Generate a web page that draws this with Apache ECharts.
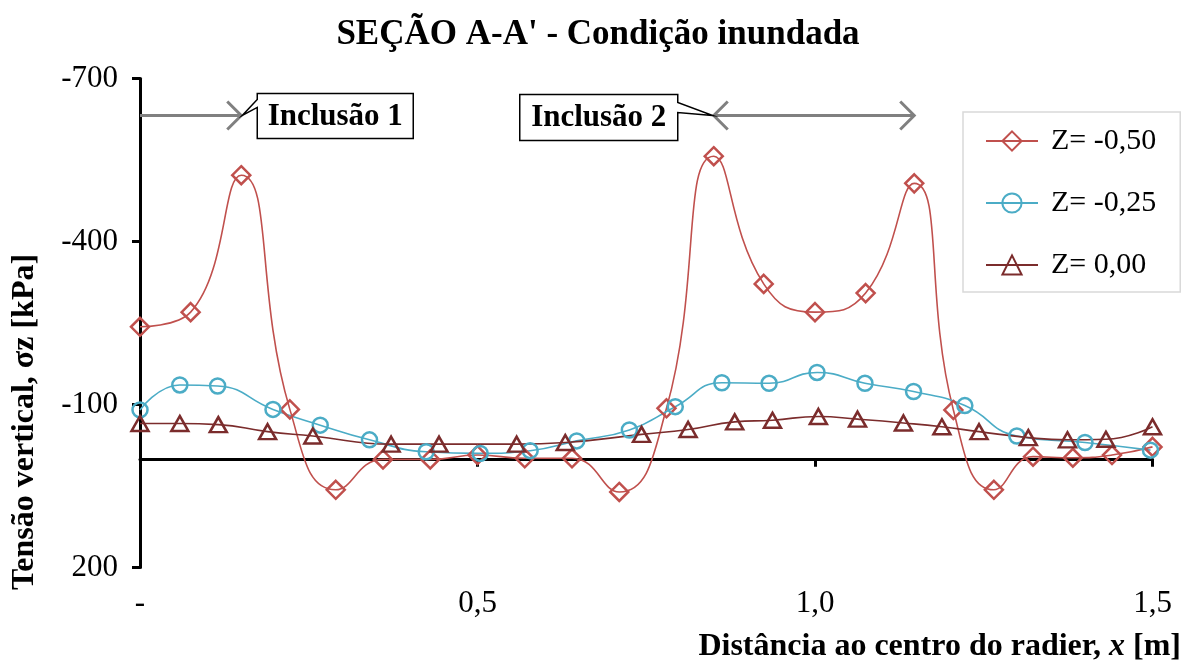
<!DOCTYPE html>
<html>
<head>
<meta charset="utf-8">
<script src="https://cdn.jsdelivr.net/npm/echarts@6/dist/echarts.min.js"></script>
<style>
  html, body { margin: 0; padding: 0; background: #fff; }
  #chart { width: 1196px; height: 665px; }
</style>
</head>
<body>
<div id="chart"></div>
<script>
// dados (x em m, tensão em kPa)
var xRed = [0, 0.075, 0.15, 0.222, 0.29, 0.36, 0.43, 0.5, 0.57, 0.64, 0.71, 0.78, 0.85, 0.924, 1.0, 1.075, 1.147, 1.205, 1.265, 1.323, 1.382, 1.44, 1.5];
var yRed = [-243, -270, -522, -91, 57, 1, 1, -7, -1, -1, 61, -93, -557, -322, -270, -305, -507, -90, 57, -4, -2, -7, -22];

var xBlue = [0, 0.059, 0.115, 0.197, 0.267, 0.34, 0.424, 0.504, 0.578, 0.647, 0.725, 0.793, 0.862, 0.932, 1.003, 1.074, 1.146, 1.222, 1.299, 1.4, 1.497];
var yBlue = [-90, -136, -134, -91, -62, -35, -13, -10, -15, -33, -53, -96, -140, -139, -159, -139, -124, -98, -42, -30, -16];

var xDark = [0, 0.059, 0.116, 0.189, 0.256, 0.372, 0.443, 0.558, 0.63, 0.743, 0.812, 0.881, 0.937, 1.005, 1.063, 1.131, 1.188, 1.243, 1.316, 1.374, 1.431, 1.5];
var yDark = [-65, -65, -63, -50, -42, -27, -27, -27, -30, -45, -54, -68, -71, -78, -73, -66, -59, -50, -39, -35, -36, -59];

var seriesNames = ['Z= -0,50', 'Z= -0,25', 'Z= 0,00'];

// setas das inclusões (coordenadas do gráfico)
var arrow1 = [[0, -632], [0.15, -632]];
var arrow2 = [[0.85, -632], [1.147, -632]];

var FONT = 'Liberation Serif';

function pairs(xs, ys) {
  return xs.map(function (x, i) { return [x, ys[i]]; });
}

var chart = echarts.init(document.getElementById('chart'));

function mkSeries(name, data, color, symbol, size) {
  return {
    name: name,
    type: 'line',
    data: data,
    smooth: 0.5,
    symbol: symbol,
    symbolSize: size,
    lineStyle: { color: color, width: 1.6 },
    itemStyle: { color: 'rgba(255,255,255,0)', borderColor: color, borderWidth: 2.5 },
    emphasis: { disabled: true },
    z: 3
  };
}

var option = {
  animation: false,
  backgroundColor: '#fff',
  title: [{
    text: "SEÇÃO A-A' - Condição inundada",
    left: 'center',
    top: 12,
    textStyle: { fontFamily: FONT, fontWeight: 'bold', fontSize: 35, color: '#000' }
  }, {
    text: '{b|Distância ao centro do radier, }{i|x}{b| [m]}',
    right: 10,
    top: 626,
    textStyle: {
      rich: {
        b: { fontFamily: FONT, fontWeight: 'bold', fontSize: 32, color: '#000' },
        i: { fontFamily: FONT, fontWeight: 'bold', fontStyle: 'italic', fontSize: 32, color: '#000' }
      }
    }
  }],
  grid: { left: 140, right: 43.5, top: 78.5, bottom: 97.5, containLabel: false },
  legend: {
    orient: 'vertical',
    left: 963,
    top: 112,
    padding: [14, 24, 12, 22],
    itemWidth: 52,
    itemHeight: 24,
    itemGap: 32,
    borderColor: '#D9D9D9',
    borderWidth: 1.5,
    backgroundColor: '#fff',
    data: seriesNames,
    textStyle: { fontFamily: FONT, fontSize: 30, color: '#000', lineHeight: 28, padding: [0, 0, 0, 8] }
  },
  xAxis: [{
    type: 'value',
    min: 0, max: 1.5, interval: 0.5,
    axisLine: { show: true, onZero: true, lineStyle: { color: '#000', width: 3 } },
    axisTick: { show: true, length: 8, lineStyle: { color: '#000', width: 3 } },
    axisLabel: { show: false },
    splitLine: { show: false }
  }, {
    type: 'value',
    position: 'bottom',
    min: 0, max: 1.5, interval: 0.5,
    axisLine: { show: false, onZero: false },
    axisTick: { show: false },
    splitLine: { show: false },
    axisLabel: {
      margin: 21,
      fontFamily: FONT, fontSize: 31, color: '#000',
      formatter: function (v) { return v === 0 ? '-' : v.toFixed(1).replace('.', ','); }
    }
  }],
  yAxis: {
    type: 'value',
    inverse: true,
    min: -700, max: 200, interval: 300,
    axisLine: { show: true, onZero: false, lineStyle: { color: '#000', width: 3 } },
    axisTick: { show: true, length: 8, lineStyle: { color: '#000', width: 3 } },
    axisLabel: { margin: 22, fontFamily: FONT, fontSize: 31, color: '#000' },
    splitLine: { show: false }
  },
  series: [
    mkSeries(seriesNames[0], pairs(xRed, yRed), '#C0504D', 'diamond', [18, 18]),
    mkSeries(seriesNames[1], pairs(xBlue, yBlue), '#4BACC6', 'circle', 15),
    mkSeries(seriesNames[2], pairs(xDark, yDark), '#7B2C2C', 'triangle', [17, 15])
  ]
};

chart.setOption(option);

// anotações: setas e caixas "Inclusão"
function px(p) { return chart.convertToPixel({ seriesIndex: 0 }, p); }
var gray = '#808080';
var a1s = px(arrow1[0]), a1e = px(arrow1[1]);
var a2s = px(arrow2[0]), a2e = px(arrow2[1]);
var h = 14;
function chevron(tip, dir) {
  return {
    type: 'polyline',
    shape: { points: [[tip[0] - dir * h, tip[1] - h], tip, [tip[0] - dir * h, tip[1] + h]] },
    style: { stroke: gray, lineWidth: 3, fill: null },
    z: 10
  };
}
function shaft(a, b) {
  return { type: 'line', shape: { x1: a[0], y1: a[1], x2: b[0], y2: b[1] }, style: { stroke: gray, lineWidth: 3 }, z: 10 };
}
// caixa 1 à direita da ponta da seta, com bico para a esquerda
var b1 = { l: a1e[0] + 16, r: a1e[0] + 172, t: a1e[1] - 22, b: a1e[1] + 23 };
var box1 = [[b1.l, b1.t], [b1.r, b1.t], [b1.r, b1.b], [b1.l, b1.b], [b1.l, b1.t + 14], [a1e[0] + 1, a1e[1]], [b1.l, b1.t + 6]];
// caixa 2 à esquerda do início da seta dupla, bico para a direita
var b2 = { l: a2s[0] - 194, r: a2s[0] - 36, t: a2s[1] - 21, b: a2s[1] + 25 };
var box2 = [[b2.l, b2.t], [b2.r, b2.t], [b2.r, b2.t + 8], [a2s[0] - 1, a2s[1]], [b2.r, b2.t + 18], [b2.r, b2.b], [b2.l, b2.b]];

var txtStyle = { fontFamily: FONT, fontWeight: 'bold', fontSize: 31, fill: '#000', align: 'center', verticalAlign: 'middle' };

chart.setOption({
  graphic: [
    shaft(a1s, a1e), chevron(a1e, 1),
    shaft(a2s, a2e), chevron(a2s, -1), chevron(a2e, 1),
    { type: 'polygon', shape: { points: box1 }, style: { fill: '#fff', stroke: '#000', lineWidth: 1.5 }, z: 11 },
    { type: 'text', x: (b1.l + b1.r) / 2, y: (b1.t + b1.b) / 2 + 1, style: Object.assign({ text: 'Inclusão 1' }, txtStyle), z: 12 },
    { type: 'polygon', shape: { points: box2 }, style: { fill: '#fff', stroke: '#000', lineWidth: 1.5 }, z: 11 },
    { type: 'text', x: (b2.l + b2.r) / 2, y: (b2.t + b2.b) / 2 + 1, style: Object.assign({ text: 'Inclusão 2' }, txtStyle), z: 12 },
    {
      type: 'text', x: 25, y: 422, rotation: Math.PI / 2,
      style: { text: 'Tensão vertical, σz [kPa]', fontFamily: FONT, fontWeight: 'bold', fontSize: 32, fill: '#000', align: 'center', verticalAlign: 'middle' }
    }
  ]
});
</script>
</body>
</html>
